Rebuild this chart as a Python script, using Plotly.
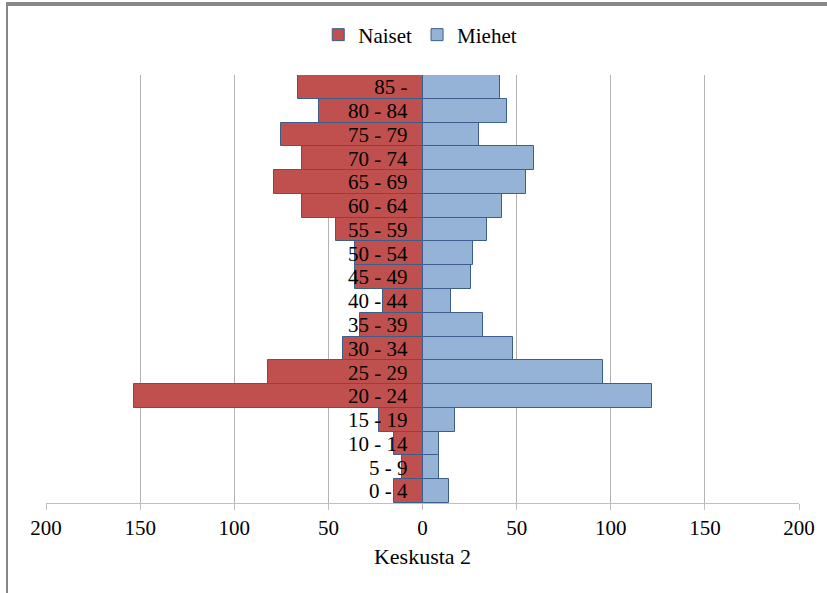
import plotly.graph_objects as go

age_groups = ["0 - 4", "5 - 9", "10 - 14", "15 - 19", "20 - 24", "25 - 29", "30 - 34",
              "35 - 39", "40 - 44", "45 - 49", "50 - 54", "55 - 59", "60 - 64",
              "65 - 69", "70 - 74", "75 - 79", "80 - 84", "85 -"]
naiset = [15, 11, 15, 23, 153, 82, 42, 33, 21, 36, 36, 46, 64, 79, 64, 75, 55, 66]
miehet = [14, 9, 9, 17, 122, 96, 48, 32, 15, 26, 27, 34, 42, 55, 59, 30, 45, 41]

x_tickvals = [-200, -150, -100, -50, 0, 50, 100, 150, 200]
x_ticktext = ["200", "150", "100", "50", "0", "50", "100", "150", "200"]

FONT = "Liberation Serif, Times New Roman, DejaVu Serif, serif"
outline = "#3B5E8C"

fig = go.Figure()
fig.add_trace(go.Bar(
    y=age_groups, x=[-v for v in naiset], orientation="h", name="Naiset",
    marker=dict(color="#C0504D", line=dict(color=outline, width=1)),
))
fig.add_trace(go.Bar(
    y=age_groups, x=miehet, orientation="h", name="Miehet",
    marker=dict(color="#95B3D7", line=dict(color=outline, width=1)),
))

L, R, T, B = 46, 28, 75, 90
W, H = 827, 593
pw, ph = W - L - R, H - T - B

def px_x(p):
    return (p - L) / pw

def px_y(p):
    return 1 - (p - T) / ph

frame = "#878787"
shapes = [
    dict(type="rect", xref="paper", yref="paper", x0=px_x(6), x1=px_x(830),
         y0=px_y(6), y1=px_y(2), fillcolor=frame, line=dict(width=0), layer="above"),
    dict(type="rect", xref="paper", yref="paper", x0=px_x(6), x1=px_x(8),
         y0=px_y(596), y1=px_y(2), fillcolor=frame, line=dict(width=0), layer="above"),
]

fig.update_layout(
    width=W, height=H,
    margin=dict(l=L, r=R, t=T, b=B),
    paper_bgcolor="white", plot_bgcolor="white",
    barmode="relative", bargap=0,
    font=dict(family=FONT, size=21, color="black"),
    legend=dict(orientation="h", x=0.497, xanchor="center", y=px_y(35), yanchor="middle",
                font=dict(family=FONT, size=21), itemwidth=30, traceorder="normal",
                bgcolor="rgba(0,0,0,0)"),
    xaxis=dict(range=[-200, 200], tickvals=x_tickvals, ticktext=x_ticktext,
               showgrid=True, gridcolor="#B3B3B3", gridwidth=1,
               showline=True, linecolor="#BFBFBF", linewidth=1,
               ticks="outside", ticklen=6, tickcolor="#BFBFBF",
               zeroline=False, fixedrange=True,
               title=dict(text="Keskusta 2", font=dict(family=FONT, size=22), standoff=9),
               tickfont=dict(family=FONT, size=21)),
    yaxis=dict(type="category", categoryorder="array", categoryarray=age_groups,
               tickmode="array", tickvals=age_groups, ticktext=age_groups,
               anchor="free", position=0.5, showgrid=False, showline=False,
               ticks="", zeroline=False, ticklabelstandoff=15,
               tickfont=dict(family=FONT, size=21)),
    shapes=shapes,
    showlegend=True,
)

fig.write_html("out.html", config={"displayModeBar": False},
               post_script="document.body.style.margin='0';document.body.style.padding='0';")
